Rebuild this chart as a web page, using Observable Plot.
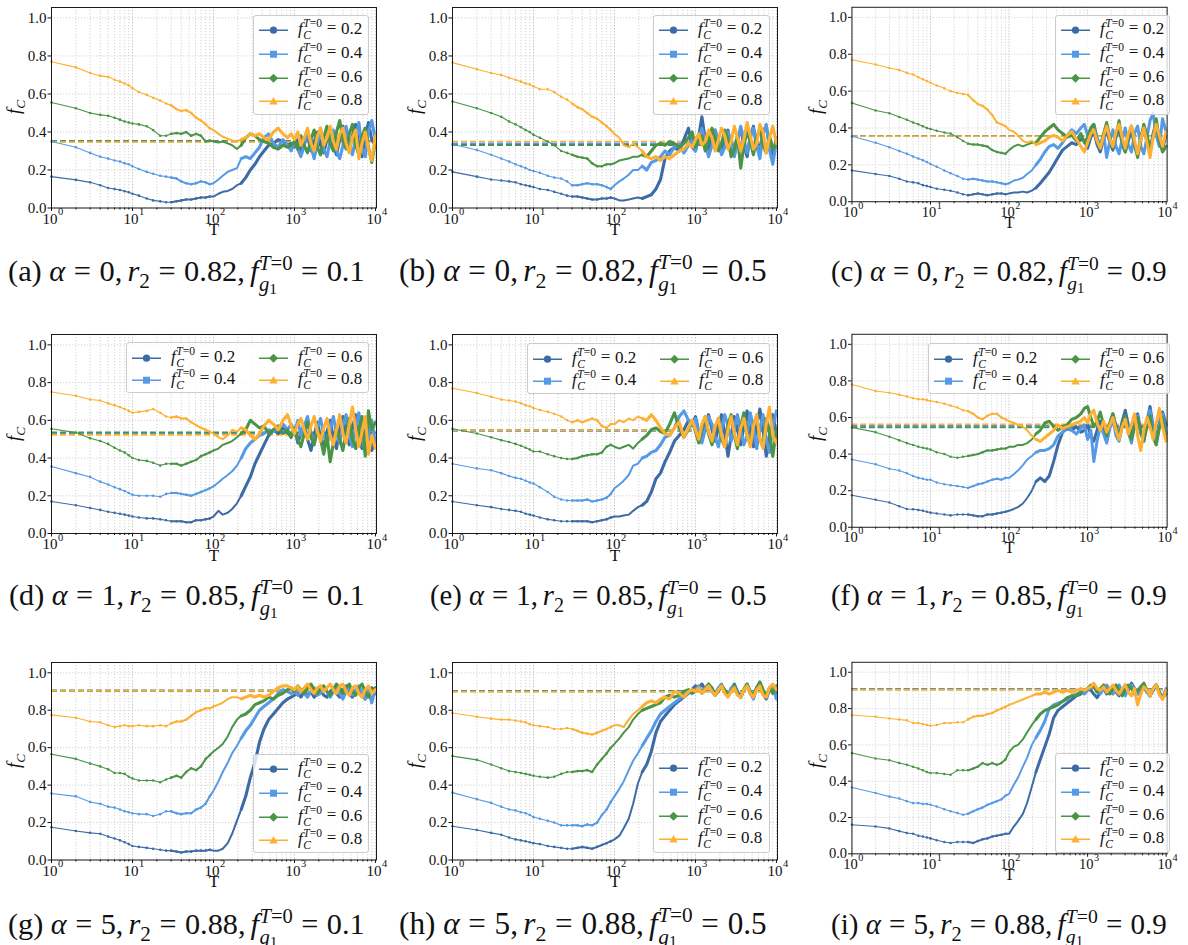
<!DOCTYPE html>
<html><head><meta charset="utf-8">
<script src="https://cdn.jsdelivr.net/npm/d3@7"></script>
<script src="https://cdn.jsdelivr.net/npm/@observablehq/plot@0.6"></script>
<style>
body{margin:0;background:#fff;}
#root{position:relative;width:1188px;height:945px;overflow:hidden;font-family:"Liberation Serif","DejaVu Serif","Times New Roman",Times,serif;color:#111;}
.panel{position:absolute;}
.legend{position:absolute;background:rgba(255,255,255,0.8);border:1px solid #cccccc;border-radius:3px;box-sizing:border-box;}
.entry{position:absolute;display:flex;align-items:center;white-space:nowrap;font-size:17px;line-height:1;transform:translateY(-50%);}
.entry svg{flex:none;}
.lab{margin-left:10px;}
.ss{display:inline-flex;flex-direction:column;font-size:0.68em;line-height:1.02;vertical-align:0.55em;margin-left:0.5px;}
.rel{margin:0 0.28em;}
.thin{display:inline-block;width:0.17em;}
.cap{position:absolute;white-space:nowrap;line-height:1.2;}
.cap sub{font-size:0.7em;}
.ss sub{font-size:0.75em;vertical-align:-0.2em;}
.bm{display:inline-block;width:0;height:0;}
.ylab{position:absolute;font-size:19px;line-height:1;white-space:nowrap;transform:translate(-50%,-50%) rotate(-90deg);}
.ylab sub{font-size:0.7em;}
</style>
</head>
<body>
<div id="root"></div>
<script>
// ---------- data ----------
const T = [1,2,3,4,5,6,7,8,9,10,12,15,18,22,26,30,35,40,46,53,61,70,80,90,100,115,130,150,170,195,220,250,285,325,370,420,480,550,630,720,820,910,1000,1100,1200,1320,1450,1600,1750,1920,2100,2300,2520,2760,3020,3300,3620,3960,4340,4750,5200,5700,6240,6830,7480,8190,9000,10000];

const seriesLabels = ["0.2","0.4","0.6","0.8"];
const yTicks = [0,0.2,0.4,0.6,0.8,1.0];
const decades = [1,10,100,1000,10000];
const decadeExp = ["0","1","2","3","4"];
const minorT = [2,3,4,5,6,7,8,9,20,30,40,50,60,70,80,90,200,300,400,500,600,700,800,900,2000,3000,4000,5000,6000,7000,8000,9000];

// (a)
const a02 = [0.165,0.148,0.135,0.12,0.105,0.1,0.095,0.088,0.083,0.075, 0.065,0.05,0.04,0.035,0.03,0.03,0.035,0.04,0.045,0.045,0.05,0.055,0.055,0.06, 0.06,0.075,0.085,0.09,0.1,0.12,0.13,0.16,0.2,0.23,0.27,0.3,0.33,0.34,0.36,0.35,0.33,0.34, 0.32,0.36,0.29,0.34,0.38,0.30,0.35,0.40,0.33,0.29,0.36,0.41,0.33,0.28,0.36,0.43,0.35,0.30,0.38,0.44,0.33,0.27,0.37,0.45,0.36,0.33];
const a04 = [0.35,0.32,0.29,0.27,0.26,0.25,0.245,0.235,0.23,0.22, 0.205,0.19,0.18,0.17,0.165,0.16,0.155,0.14,0.13,0.125,0.13,0.14,0.135,0.125, 0.13,0.15,0.17,0.19,0.2,0.21,0.26,0.27,0.26,0.29,0.32,0.37,0.39,0.34,0.32,0.36,0.33,0.30, 0.35,0.31,0.27,0.33,0.40,0.32,0.26,0.34,0.42,0.31,0.27,0.35,0.41,0.30,0.26,0.33,0.43,0.35,0.28,0.36,0.45,0.31,0.27,0.40,0.46,0.36];
const a06 = [0.555,0.525,0.5,0.49,0.485,0.475,0.465,0.455,0.45,0.445, 0.44,0.43,0.41,0.38,0.38,0.39,0.395,0.39,0.4,0.38,0.39,0.38,0.35,0.355, 0.35,0.345,0.35,0.34,0.33,0.31,0.33,0.37,0.39,0.38,0.36,0.35,0.34,0.32,0.31,0.33,0.32,0.33, 0.35,0.31,0.38,0.33,0.29,0.36,0.41,0.32,0.28,0.37,0.43,0.34,0.30,0.40,0.46,0.36,0.31,0.39,0.44,0.33,0.28,0.38,0.42,0.32,0.24,0.35];
const a08 = [0.77,0.74,0.71,0.695,0.69,0.675,0.665,0.655,0.645,0.63, 0.61,0.595,0.58,0.565,0.55,0.54,0.52,0.51,0.515,0.5,0.475,0.46,0.44,0.42, 0.41,0.39,0.375,0.365,0.355,0.35,0.36,0.37,0.39,0.38,0.39,0.37,0.36,0.40,0.42,0.39,0.37,0.39, 0.36,0.40,0.33,0.37,0.42,0.34,0.30,0.38,0.42,0.33,0.37,0.43,0.35,0.31,0.39,0.42,0.34,0.29,0.37,0.41,0.26,0.34,0.40,0.31,0.25,0.38];
// (b)
const b02 = [0.19,0.165,0.15,0.145,0.14,0.135,0.125,0.12,0.115,0.11, 0.1,0.095,0.085,0.075,0.065,0.06,0.06,0.055,0.05,0.045,0.045,0.05,0.05,0.055, 0.05,0.04,0.04,0.045,0.05,0.055,0.05,0.06,0.07,0.1,0.15,0.26,0.3,0.32,0.3,0.36,0.42,0.32, 0.3,0.38,0.48,0.36,0.3,0.38,0.41,0.33,0.29,0.37,0.41,0.32,0.28,0.36,0.42,0.33,0.27,0.38,0.43,0.32,0.29,0.40,0.43,0.33,0.28,0.37];
const b04 = [0.335,0.305,0.28,0.26,0.245,0.23,0.22,0.21,0.2,0.195, 0.185,0.17,0.16,0.155,0.14,0.12,0.12,0.125,0.13,0.125,0.125,0.12,0.11,0.1, 0.12,0.14,0.155,0.175,0.2,0.2,0.22,0.2,0.24,0.25,0.27,0.3,0.28,0.32,0.33,0.29,0.33,0.36, 0.3,0.37,0.42,0.34,0.27,0.33,0.41,0.36,0.28,0.32,0.40,0.34,0.27,0.35,0.43,0.36,0.29,0.37,0.42,0.33,0.26,0.39,0.44,0.31,0.23,0.35];
const b06 = [0.56,0.525,0.5,0.48,0.455,0.44,0.425,0.41,0.4,0.385, 0.37,0.35,0.33,0.3,0.29,0.28,0.27,0.265,0.26,0.235,0.22,0.22,0.23,0.23, 0.235,0.25,0.255,0.26,0.27,0.27,0.28,0.27,0.3,0.33,0.34,0.33,0.35,0.34,0.32,0.34,0.37,0.4, 0.32,0.36,0.38,0.30,0.35,0.42,0.37,0.30,0.34,0.41,0.36,0.27,0.31,0.38,0.21,0.33,0.40,0.35,0.28,0.37,0.42,0.33,0.29,0.38,0.31,0.34];
const b08 = [0.765,0.73,0.71,0.7,0.685,0.675,0.665,0.655,0.65,0.64, 0.625,0.625,0.61,0.585,0.57,0.55,0.53,0.52,0.5,0.48,0.47,0.45,0.43,0.41, 0.39,0.37,0.33,0.32,0.34,0.32,0.3,0.27,0.26,0.27,0.25,0.27,0.26,0.28,0.3,0.31,0.34,0.32, 0.36,0.39,0.33,0.35,0.41,0.37,0.30,0.36,0.42,0.38,0.31,0.35,0.43,0.37,0.30,0.36,0.45,0.38,0.31,0.34,0.44,0.40,0.29,0.37,0.43,0.34];
// (c)
const c02 = [0.17,0.15,0.14,0.125,0.11,0.105,0.1,0.09,0.085,0.08, 0.07,0.065,0.06,0.05,0.04,0.035,0.04,0.045,0.04,0.035,0.04,0.045,0.045,0.04, 0.045,0.05,0.05,0.055,0.05,0.06,0.075,0.1,0.13,0.16,0.2,0.24,0.28,0.3,0.32,0.31,0.34,0.33, 0.29,0.35,0.38,0.31,0.27,0.34,0.39,0.32,0.28,0.35,0.40,0.31,0.27,0.33,0.39,0.30,0.26,0.35,0.41,0.32,0.28,0.37,0.43,0.34,0.29,0.36];
const c04 = [0.355,0.32,0.295,0.275,0.26,0.245,0.235,0.225,0.215,0.205, 0.19,0.17,0.155,0.14,0.125,0.12,0.125,0.12,0.115,0.11,0.11,0.105,0.1,0.095, 0.1,0.115,0.12,0.13,0.15,0.17,0.2,0.23,0.27,0.3,0.31,0.29,0.32,0.36,0.39,0.37,0.4,0.42, 0.36,0.40,0.42,0.35,0.30,0.37,0.24,0.33,0.39,0.30,0.26,0.34,0.40,0.31,0.27,0.37,0.41,0.30,0.26,0.35,0.44,0.48,0.36,0.30,0.45,0.38];
const c06 = [0.535,0.495,0.48,0.46,0.445,0.43,0.42,0.41,0.4,0.395, 0.385,0.375,0.37,0.35,0.33,0.315,0.31,0.31,0.305,0.3,0.28,0.27,0.265,0.26, 0.28,0.3,0.31,0.3,0.31,0.32,0.32,0.35,0.38,0.4,0.42,0.39,0.37,0.35,0.36,0.33,0.37,0.32, 0.35,0.40,0.42,0.33,0.30,0.37,0.43,0.35,0.29,0.36,0.44,0.33,0.27,0.35,0.41,0.31,0.24,0.33,0.42,0.36,0.29,0.35,0.45,0.33,0.27,0.30];
const c08 = [0.77,0.745,0.725,0.715,0.7,0.69,0.675,0.665,0.655,0.645, 0.63,0.615,0.6,0.59,0.585,0.58,0.55,0.53,0.52,0.5,0.47,0.43,0.42,0.41, 0.39,0.38,0.36,0.33,0.32,0.33,0.31,0.32,0.33,0.35,0.36,0.35,0.33,0.36,0.38,0.34,0.3,0.27, 0.32,0.37,0.39,0.33,0.29,0.36,0.41,0.34,0.30,0.38,0.42,0.35,0.29,0.37,0.41,0.33,0.26,0.34,0.40,0.32,0.24,0.35,0.42,0.36,0.30,0.38];
// (d)
const d02 = [0.17,0.15,0.135,0.125,0.115,0.11,0.105,0.1,0.095,0.09, 0.085,0.08,0.08,0.075,0.07,0.065,0.065,0.065,0.06,0.06,0.07,0.07,0.075,0.08, 0.09,0.12,0.1,0.11,0.13,0.16,0.2,0.25,0.3,0.37,0.42,0.47,0.52,0.55,0.53,0.56,0.54,0.51, 0.56,0.48,0.53,0.58,0.50,0.44,0.52,0.59,0.51,0.46,0.54,0.60,0.50,0.45,0.55,0.62,0.52,0.47,0.56,0.63,0.51,0.45,0.54,0.60,0.44,0.50];
const d04 = [0.355,0.32,0.3,0.275,0.26,0.245,0.235,0.225,0.215,0.205, 0.2,0.2,0.2,0.195,0.21,0.215,0.215,0.21,0.205,0.2,0.21,0.22,0.23,0.24, 0.25,0.27,0.29,0.31,0.33,0.36,0.4,0.45,0.48,0.5,0.52,0.53,0.55,0.54,0.56,0.58,0.55,0.58, 0.54,0.60,0.52,0.57,0.62,0.53,0.48,0.56,0.61,0.52,0.47,0.55,0.62,0.53,0.48,0.57,0.63,0.52,0.46,0.56,0.64,0.51,0.43,0.52,0.60,0.47];
const d06 = [0.555,0.535,0.505,0.49,0.475,0.455,0.44,0.43,0.415,0.4, 0.39,0.385,0.375,0.36,0.37,0.37,0.37,0.36,0.37,0.38,0.39,0.41,0.42,0.43, 0.44,0.45,0.47,0.48,0.49,0.51,0.53,0.55,0.6,0.58,0.56,0.57,0.53,0.55,0.57,0.53,0.55,0.51, 0.56,0.50,0.46,0.53,0.59,0.51,0.47,0.55,0.50,0.42,0.52,0.38,0.48,0.56,0.50,0.44,0.54,0.61,0.50,0.45,0.55,0.62,0.41,0.65,0.55,0.59];
const d08 = [0.75,0.73,0.71,0.705,0.69,0.68,0.67,0.66,0.65,0.64, 0.645,0.65,0.66,0.64,0.62,0.615,0.62,0.61,0.61,0.59,0.575,0.56,0.55,0.54, 0.53,0.51,0.5,0.52,0.55,0.54,0.56,0.55,0.52,0.5,0.53,0.57,0.6,0.58,0.55,0.6,0.63,0.57, 0.53,0.58,0.61,0.55,0.50,0.57,0.62,0.54,0.49,0.56,0.61,0.52,0.47,0.55,0.63,0.53,0.48,0.58,0.67,0.55,0.46,0.54,0.62,0.42,0.52,0.45];
// (e)
const e02 = [0.17,0.15,0.14,0.13,0.125,0.12,0.115,0.105,0.1,0.095, 0.085,0.075,0.07,0.065,0.065,0.065,0.065,0.065,0.065,0.06,0.065,0.07,0.075,0.085, 0.09,0.09,0.095,0.1,0.12,0.14,0.15,0.17,0.22,0.29,0.32,0.38,0.43,0.49,0.52,0.55,0.6,0.58, 0.62,0.54,0.49,0.57,0.63,0.55,0.49,0.56,0.63,0.53,0.41,0.52,0.62,0.55,0.47,0.57,0.65,0.54,0.46,0.57,0.66,0.55,0.41,0.52,0.63,0.53];
const e04 = [0.37,0.345,0.335,0.32,0.305,0.295,0.29,0.28,0.27,0.265, 0.245,0.22,0.195,0.18,0.175,0.175,0.175,0.175,0.18,0.17,0.175,0.18,0.19,0.21, 0.24,0.26,0.28,0.31,0.36,0.37,0.4,0.41,0.43,0.44,0.47,0.51,0.52,0.56,0.62,0.65,0.6,0.57, 0.61,0.53,0.48,0.55,0.62,0.58,0.51,0.46,0.55,0.63,0.57,0.49,0.56,0.63,0.54,0.47,0.52,0.64,0.56,0.45,0.55,0.63,0.50,0.43,0.56,0.65];
const e06 = [0.555,0.53,0.51,0.495,0.485,0.475,0.465,0.455,0.445,0.435, 0.435,0.42,0.41,0.4,0.395,0.395,0.4,0.41,0.415,0.42,0.42,0.43,0.46,0.47, 0.46,0.45,0.46,0.47,0.45,0.48,0.5,0.52,0.55,0.56,0.54,0.53,0.58,0.64,0.56,0.51,0.55,0.6, 0.54,0.48,0.56,0.62,0.53,0.47,0.55,0.61,0.50,0.46,0.58,0.63,0.52,0.45,0.57,0.64,0.53,0.47,0.58,0.62,0.50,0.46,0.61,0.53,0.41,0.55];
const e08 = [0.77,0.745,0.725,0.71,0.705,0.7,0.69,0.68,0.675,0.665, 0.655,0.645,0.635,0.62,0.6,0.59,0.6,0.59,0.6,0.61,0.6,0.57,0.56,0.58, 0.58,0.6,0.59,0.61,0.6,0.62,0.61,0.6,0.63,0.6,0.56,0.53,0.52,0.56,0.59,0.51,0.56,0.6, 0.55,0.50,0.58,0.62,0.54,0.49,0.57,0.61,0.52,0.46,0.55,0.62,0.53,0.47,0.56,0.61,0.52,0.46,0.57,0.63,0.50,0.45,0.58,0.67,0.52,0.48];
// (f)
const f02 = [0.175,0.15,0.135,0.115,0.1,0.098,0.095,0.09,0.085,0.08, 0.075,0.07,0.065,0.07,0.07,0.07,0.065,0.06,0.06,0.07,0.07,0.075,0.08,0.085, 0.09,0.1,0.11,0.13,0.16,0.2,0.25,0.27,0.25,0.28,0.36,0.45,0.52,0.54,0.53,0.55,0.52,0.53, 0.56,0.50,0.47,0.53,0.58,0.54,0.49,0.57,0.62,0.55,0.50,0.58,0.64,0.56,0.50,0.58,0.62,0.53,0.48,0.58,0.66,0.55,0.49,0.57,0.63,0.56];
const f04 = [0.37,0.345,0.32,0.31,0.295,0.28,0.27,0.265,0.26,0.26, 0.245,0.235,0.23,0.225,0.22,0.215,0.225,0.235,0.24,0.25,0.26,0.265,0.26,0.27, 0.27,0.29,0.31,0.34,0.37,0.39,0.41,0.42,0.42,0.43,0.45,0.5,0.52,0.55,0.53,0.51,0.54,0.56, 0.48,0.53,0.36,0.47,0.55,0.51,0.46,0.54,0.59,0.50,0.47,0.55,0.60,0.52,0.46,0.56,0.61,0.51,0.47,0.57,0.64,0.53,0.46,0.56,0.62,0.51];
const f06 = [0.545,0.52,0.495,0.475,0.46,0.45,0.44,0.435,0.43,0.425, 0.41,0.4,0.385,0.38,0.385,0.39,0.395,0.4,0.41,0.42,0.42,0.425,0.43,0.43, 0.44,0.44,0.45,0.45,0.46,0.48,0.51,0.53,0.57,0.58,0.55,0.53,0.55,0.56,0.59,0.6,0.62,0.65, 0.66,0.60,0.55,0.58,0.63,0.56,0.50,0.57,0.62,0.55,0.49,0.56,0.61,0.52,0.48,0.55,0.60,0.52,0.47,0.55,0.61,0.49,0.45,0.54,0.60,0.48];
const f08 = [0.78,0.745,0.735,0.725,0.715,0.705,0.7,0.7,0.695,0.69, 0.685,0.675,0.665,0.655,0.64,0.635,0.62,0.6,0.59,0.61,0.62,0.62,0.6,0.59, 0.58,0.57,0.56,0.55,0.53,0.5,0.48,0.47,0.49,0.51,0.53,0.56,0.54,0.55,0.56,0.57,0.58,0.6, 0.57,0.62,0.64,0.57,0.53,0.58,0.52,0.56,0.60,0.53,0.48,0.55,0.59,0.51,0.56,0.62,0.50,0.42,0.53,0.60,0.55,0.48,0.57,0.65,0.55,0.47];
// (g)
const g02 = [0.175,0.155,0.145,0.14,0.125,0.115,0.105,0.095,0.085,0.075, 0.07,0.065,0.06,0.055,0.05,0.05,0.045,0.04,0.045,0.045,0.05,0.05,0.05,0.055, 0.05,0.05,0.06,0.09,0.14,0.21,0.27,0.34,0.44,0.52,0.63,0.7,0.75,0.78,0.81,0.84,0.86,0.87, 0.88,0.89,0.87,0.9,0.88,0.9,0.87,0.89,0.91,0.88,0.87,0.9,0.92,0.89,0.87,0.91,0.93,0.89,0.87,0.9,0.92,0.88,0.86,0.9,0.92,0.89];
const g04 = [0.355,0.34,0.31,0.3,0.285,0.28,0.27,0.26,0.255,0.25, 0.245,0.245,0.235,0.245,0.26,0.26,0.25,0.245,0.25,0.25,0.27,0.28,0.3,0.34, 0.37,0.42,0.47,0.52,0.57,0.61,0.65,0.69,0.72,0.76,0.8,0.82,0.84,0.86,0.89,0.91,0.9,0.89, 0.9,0.88,0.91,0.89,0.87,0.9,0.92,0.88,0.89,0.92,0.9,0.87,0.9,0.93,0.89,0.86,0.9,0.92,0.88,0.91,0.93,0.89,0.86,0.91,0.84,0.92];
const g06 = [0.565,0.54,0.515,0.5,0.485,0.465,0.465,0.46,0.445,0.435, 0.425,0.425,0.425,0.415,0.43,0.44,0.45,0.44,0.47,0.49,0.48,0.5,0.54,0.56, 0.58,0.6,0.62,0.66,0.71,0.75,0.77,0.78,0.8,0.83,0.84,0.85,0.87,0.86,0.88,0.89,0.91,0.92, 0.9,0.93,0.91,0.89,0.92,0.94,0.91,0.89,0.92,0.93,0.9,0.88,0.91,0.94,0.92,0.89,0.92,0.94,0.9,0.88,0.92,0.94,0.9,0.87,0.91,0.92];
const g08 = [0.775,0.76,0.74,0.735,0.72,0.71,0.715,0.72,0.715,0.715, 0.72,0.715,0.715,0.72,0.715,0.73,0.74,0.74,0.75,0.77,0.79,0.8,0.81,0.81, 0.82,0.83,0.84,0.86,0.87,0.87,0.86,0.87,0.88,0.87,0.88,0.87,0.88,0.9,0.92,0.93,0.93,0.92, 0.91,0.93,0.9,0.92,0.94,0.91,0.89,0.92,0.93,0.9,0.92,0.94,0.91,0.89,0.93,0.94,0.9,0.88,0.92,0.93,0.89,0.87,0.91,0.93,0.89,0.91];
// (h)
const h02 = [0.18,0.16,0.145,0.135,0.12,0.11,0.105,0.1,0.095,0.09, 0.085,0.075,0.07,0.065,0.06,0.06,0.065,0.07,0.065,0.06,0.07,0.08,0.09,0.1, 0.11,0.13,0.17,0.22,0.3,0.41,0.47,0.51,0.58,0.68,0.74,0.77,0.8,0.83,0.85,0.87,0.89,0.91, 0.93,0.92,0.94,0.91,0.93,0.9,0.88,0.91,0.93,0.9,0.88,0.91,0.94,0.9,0.87,0.91,0.93,0.89,0.87,0.92,0.94,0.89,0.86,0.91,0.93,0.89];
const h04 = [0.36,0.325,0.305,0.285,0.27,0.265,0.255,0.25,0.24,0.23, 0.22,0.21,0.2,0.185,0.185,0.185,0.185,0.18,0.19,0.185,0.2,0.24,0.27,0.31, 0.34,0.38,0.42,0.48,0.53,0.57,0.61,0.65,0.69,0.74,0.78,0.8,0.82,0.84,0.86,0.88,0.89,0.9, 0.91,0.93,0.9,0.92,0.94,0.91,0.89,0.92,0.94,0.9,0.88,0.92,0.93,0.89,0.87,0.91,0.94,0.89,0.86,0.92,0.95,0.9,0.87,0.91,0.93,0.86];
const h06 = [0.555,0.535,0.51,0.49,0.475,0.47,0.465,0.46,0.455,0.45, 0.445,0.44,0.445,0.46,0.47,0.47,0.475,0.475,0.48,0.47,0.51,0.54,0.57,0.6, 0.62,0.65,0.68,0.71,0.75,0.78,0.8,0.81,0.82,0.83,0.84,0.87,0.88,0.87,0.88,0.9,0.91,0.89, 0.9,0.92,0.89,0.91,0.94,0.92,0.88,0.9,0.93,0.91,0.88,0.9,0.93,0.89,0.87,0.91,0.94,0.9,0.88,0.92,0.95,0.91,0.88,0.92,0.89,0.93];
const h08 = [0.785,0.765,0.755,0.75,0.75,0.745,0.74,0.735,0.725,0.72, 0.715,0.71,0.7,0.7,0.705,0.7,0.69,0.68,0.675,0.67,0.68,0.69,0.7,0.71, 0.72,0.72,0.71,0.75,0.78,0.8,0.82,0.84,0.85,0.84,0.86,0.87,0.86,0.9,0.89,0.87,0.9,0.91, 0.9,0.92,0.89,0.91,0.93,0.9,0.88,0.91,0.93,0.89,0.87,0.9,0.92,0.88,0.87,0.91,0.93,0.89,0.87,0.91,0.93,0.88,0.87,0.92,0.94,0.91];
// (i)
const i02 = [0.16,0.15,0.14,0.125,0.115,0.11,0.1,0.095,0.09,0.085, 0.075,0.065,0.06,0.065,0.065,0.065,0.06,0.07,0.08,0.085,0.095,0.1,0.105,0.11, 0.11,0.15,0.18,0.22,0.28,0.37,0.45,0.52,0.59,0.66,0.75,0.79,0.81,0.83,0.85,0.87,0.88,0.9, 0.91,0.9,0.88,0.86,0.89,0.91,0.88,0.9,0.92,0.89,0.87,0.9,0.93,0.9,0.94,0.91,0.88,0.9,0.92,0.89,0.87,0.9,0.93,0.89,0.86,0.9];
const i04 = [0.365,0.335,0.315,0.305,0.29,0.28,0.28,0.275,0.275,0.27, 0.26,0.245,0.235,0.225,0.215,0.22,0.235,0.245,0.255,0.27,0.28,0.29,0.3,0.32, 0.33,0.38,0.42,0.48,0.53,0.6,0.64,0.68,0.73,0.8,0.82,0.83,0.84,0.85,0.87,0.88,0.89,0.88, 0.9,0.92,0.93,0.9,0.88,0.91,0.93,0.9,0.88,0.91,0.93,0.89,0.87,0.91,0.93,0.9,0.88,0.92,0.93,0.89,0.87,0.91,0.93,0.88,0.86,0.91];
const i06 = [0.555,0.525,0.515,0.5,0.49,0.48,0.47,0.46,0.45,0.445, 0.445,0.44,0.435,0.46,0.46,0.46,0.47,0.48,0.5,0.49,0.5,0.49,0.5,0.52, 0.56,0.59,0.6,0.63,0.67,0.71,0.74,0.77,0.79,0.8,0.81,0.82,0.84,0.86,0.87,0.87,0.89,0.9, 0.91,0.93,0.92,0.89,0.91,0.93,0.9,0.88,0.91,0.93,0.9,0.87,0.9,0.93,0.91,0.88,0.9,0.92,0.94,0.9,0.87,0.91,0.93,0.89,0.86,0.88];
const i08 = [0.765,0.755,0.745,0.74,0.735,0.72,0.72,0.715,0.71,0.705, 0.71,0.72,0.72,0.725,0.725,0.74,0.755,0.76,0.76,0.77,0.775,0.79,0.8,0.81, 0.82,0.83,0.84,0.85,0.86,0.87,0.88,0.88,0.89,0.88,0.89,0.9,0.89,0.9,0.89,0.9,0.91,0.9, 0.91,0.92,0.94,0.91,0.9,0.92,0.89,0.91,0.93,0.9,0.88,0.91,0.93,0.89,0.87,0.91,0.82,0.88,0.92,0.9,0.87,0.91,0.93,0.88,0.85,0.9];

// dashed equilibrium levels (one per series)
const eq_a = [0.352,0.35,0.352,0.347];
const eq_b = [0.335,0.34,0.33,0.35];
const eq_c = [0.355,0.355,0.355,0.355];
const eq_d = [0.53,0.53,0.536,0.523];
const eq_e = [0.545,0.545,0.55,0.548];
const eq_f = [0.554,0.55,0.545,0.563];
const eq_g = [0.905,0.905,0.905,0.905];
const eq_h = [0.902,0.902,0.901,0.899];
const eq_i = [0.907,0.906,0.905,0.903];

// caption parameters
const capLetters = ["a","b","c","d","e","f","g","h","i"];
const capAlpha = ["0","0","0","1","1","1","5","5","5"];
const capR2 = ["0.82","0.82","0.82","0.85","0.85","0.85","0.88","0.88","0.88"];
const capFg = ["0.1","0.5","0.9","0.1","0.5","0.9","0.1","0.5","0.9"];

// ---------- layout ----------
const FONT = '"Liberation Serif","DejaVu Serif","Times New Roman",Times,serif';
const COLORS = ["#3d6ba6","#569ae6","#4a9446","#fdb032"];
const SHAPES = ["circle","square","diamond","triangle"];
const panels = [
  {s:[a02,a04,a06,a08], eq:eq_a, col:0, row:0, leg:[253,15,116,100,1]},
  {s:[b02,b04,b06,b08], eq:eq_b, col:1, row:0, leg:[653,15,117,100,1]},
  {s:[c02,c04,c06,c08], eq:eq_c, col:2, row:0, leg:[1055,15,115,100,1]},
  {s:[d02,d04,d06,d08], eq:eq_d, col:0, row:1, leg:[126,342,243,51,2]},
  {s:[e02,e04,e06,e08], eq:eq_e, col:1, row:1, leg:[527,343,243,51,2]},
  {s:[f02,f04,f06,f08], eq:eq_f, col:2, row:1, leg:[928,343,242,51,2]},
  {s:[g02,g04,g06,g08], eq:eq_g, col:0, row:2, leg:[253,754,116,99,1]},
  {s:[h02,h04,h06,h08], eq:eq_h, col:1, row:2, leg:[653,753,117,100,1]},
  {s:[i02,i04,i06,i08], eq:eq_i, col:2, row:2, leg:[1055,753,115,100,1]}
];
const colX = [0,401,802];
const rowY = [0,327,655];
const frameH = [200.5,199,197.5];
const capBox = [[8,365],[399,767],[831,1167],[9,365],[430,767],[831,1167],[8,365],[399,767],[831,1167]];
const capBase = [281,605,934];
const ML = 51, MR = 22, MT = 7, MB = 43, W = 398;

const root = document.getElementById("root");

function markerSVG(shape, color){
  let m = "";
  if (shape==="circle") m = `<circle cx="14.5" cy="6" r="3.6" fill="${color}"/>`;
  if (shape==="square") m = `<rect x="11" y="2.5" width="7" height="7" fill="${color}"/>`;
  if (shape==="diamond") m = `<path d="M14.5,1.5 L19,6 L14.5,10.5 L10,6Z" fill="${color}"/>`;
  if (shape==="triangle") m = `<path d="M14.5,1.8 L18.8,9.4 L10.2,9.4Z" fill="${color}"/>`;
  return `<svg width="29" height="12" viewBox="0 0 29 12"><line x1="0" y1="6" x2="29" y2="6" stroke="${color}" stroke-width="1.5"/>${m}</svg>`;
}
function legendLabel(v){
  return `<i>f</i><span class="ss"><span><i>T</i>=0</span><span><i>C</i></span></span><span class="rel">=</span>${v}`;
}

panels.forEach((p, k) => {
  const fh = frameH[p.row];
  const marks = [
    Plot.ruleX(minorT, {stroke:"#c8c8c8", strokeWidth:0.8, strokeDasharray:"1.2,1.8"}),
    Plot.ruleX(decades, {stroke:"#b8b8b8", strokeWidth:0.8, strokeDasharray:"1.5,1.5"}),
    Plot.ruleY(yTicks, {stroke:"#c8c8c8", strokeWidth:0.8, strokeDasharray:"1.2,1.8"})
  ];
  p.eq.forEach((v, i) => {
    marks.push(Plot.ruleY([v], {stroke: COLORS[i], strokeWidth: 1.6, strokeDasharray:"6,3"}));
  });
  p.s.forEach((arr, i) => {
    const rows = T.map((t, j) => ({T: t, v: arr[j]}));
    const c = COLORS[i];
    marks.push(
      Plot.line(rows.filter(d => d.T <= 30), {x:"T", y:"v", stroke:c, strokeWidth:1.1}),
      Plot.line(rows.filter(d => d.T >= 30 && d.T <= 220), {x:"T", y:"v", stroke:c, strokeWidth:2.0, strokeLinejoin:"round"}),
      Plot.line(rows.filter(d => d.T >= 220), {x:"T", y:"v", stroke:c, strokeWidth:3.1, strokeLinejoin:"round"}),
      Plot.dot(rows.filter(d => d.T <= 90), {x:"T", y:"v", r:1.3, fill:c, stroke:null})
    );
  });
  marks.push(
    Plot.frame({stroke:"#1a1a1a", strokeWidth:1}),
    Plot.axisY({ticks: yTicks, tickFormat: d3.format(".1f"), tickSize:3.5, tickPadding:1.5, label:null, fontSize:15, fontFamily: FONT}),
    Plot.axisX({ticks: decades, tickSize:3.5, tickFormat: () => "", label:null}),
    Plot.axisX({ticks: minorT, tickSize:2, tickFormat: () => "", label:null}),
    Plot.text(decades, {x: d => d, frameAnchor:"bottom", text: () => "10", textAnchor:"end", dx:6, dy:15.5, fontSize:15, lineAnchor:"bottom", fontFamily: FONT}),
    Plot.text(decades.map((d, i) => ({d, e: decadeExp[i]})), {x:"d", frameAnchor:"bottom", text:"e", textAnchor:"start", dx:6.5, dy:7, fontSize:10.5, lineAnchor:"bottom", fontFamily: FONT}),
    Plot.text(["T"], {frameAnchor:"bottom", dy:27, fontSize:17, lineAnchor:"bottom", fontFamily: FONT})
  );
  const svg = Plot.plot({
    width: W, height: MT + fh + MB,
    marginLeft: ML, marginRight: MR, marginTop: MT, marginBottom: MB,
    x: {type:"log", domain:[1, 10300]},
    y: {domain:[0, 1.055]},
    style: {fontFamily: FONT, fontSize:"15px", color:"#111", background:"transparent", overflow:"visible"},
    marks
  });
  const wrap = document.createElement("div");
  wrap.className = "panel";
  wrap.style.left = colX[p.col] + "px";
  wrap.style.top = rowY[p.row] + "px";
  wrap.appendChild(svg);
  root.appendChild(wrap);

  // y label
  const yl = document.createElement("div");
  yl.className = "ylab";
  yl.innerHTML = "<i>f</i><sub><i>C</i></sub>";
  yl.style.left = (colX[p.col] + ML - 35) + "px";
  yl.style.top = (rowY[p.row] + MT + fh/2) + "px";
  root.appendChild(yl);

  // legend
  const [lx, ly, lw, lh, ncol] = p.leg;
  const lg = document.createElement("div");
  lg.className = "legend";
  lg.style.left = lx + "px"; lg.style.top = ly + "px";
  lg.style.width = lw + "px"; lg.style.height = lh + "px";
  for (let i = 0; i < 4; i++) {
    const e = document.createElement("div");
    e.className = "entry";
    let ex, ey;
    if (ncol === 1) { ex = 5; ey = [14,38,62,85][i]; }
    else { ex = [5,132][Math.floor(i/2)]; ey = [15,37][i%2]; }
    e.style.left = ex + "px"; e.style.top = ey + "px";
    e.innerHTML = markerSVG(SHAPES[i], COLORS[i]) + `<span class="lab">${legendLabel(seriesLabels[i])}</span>`;
    lg.appendChild(e);
  }
  root.appendChild(lg);

  // caption (math-style spacing)
  const cap = document.createElement("div");
  cap.className = "cap";
  cap.innerHTML = `(${capLetters[k]})&nbsp;<i>α</i><span class="rel">=</span>${capAlpha[k]},<span class="thin"></span><i>r</i><sub>2</sub><span class="rel">=</span>${capR2[k]},<span class="thin"></span><i>f</i><span class="ss"><span><i>T</i>=0</span><span><i>g</i><sub>1</sub></span></span><span class="rel">=</span>${capFg[k]}<span class="bm"></span>`;
  cap.style.left = capBox[k][0] + "px";
  cap.style.top = "0px";
  cap.style.fontSize = "20px";
  root.appendChild(cap);
  const w0 = cap.getBoundingClientRect().width;
  const fs = 20 * (capBox[k][1] - capBox[k][0]) / w0;
  cap.style.fontSize = fs + "px";
  const rr = root.getBoundingClientRect();
  const bm = cap.querySelector(".bm").getBoundingClientRect();
  cap.style.top = (capBase[p.row] - (bm.bottom - rr.top)) + "px";
});
</script>
</body></html>
